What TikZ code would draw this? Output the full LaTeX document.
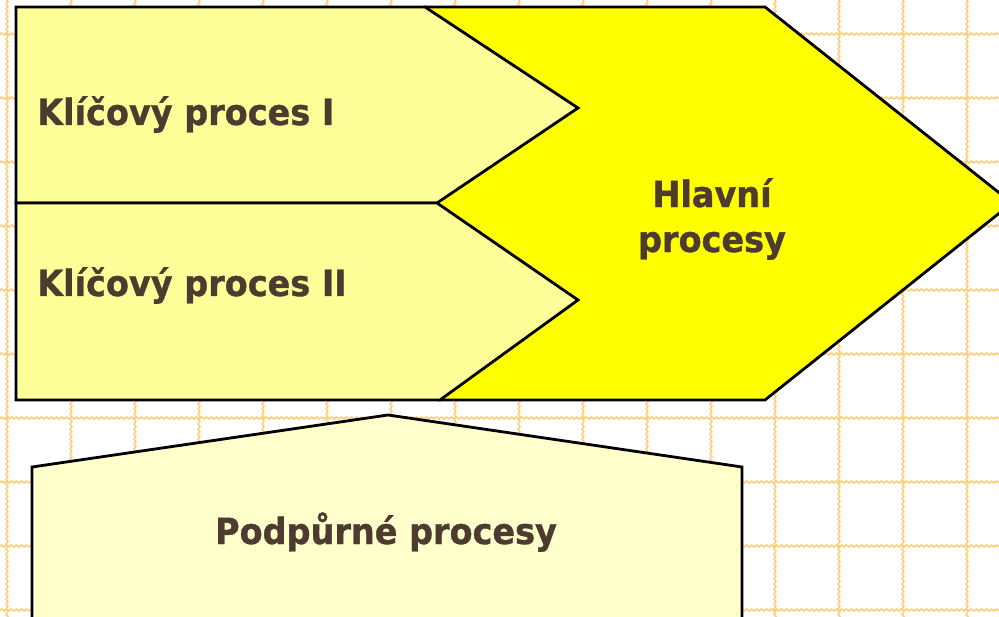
\documentclass[tikz,border=0pt]{standalone}
\usepackage{fontspec}
\setmainfont{DejaVu Sans}
\newfontfamily\labelfont{DejaVu Sans}[FakeStretch=0.93, BoldFeatures={FakeBold=1}]
\usetikzlibrary{decorations.pathmorphing}
\definecolor{gridorange}{RGB}{255,205,115}
\definecolor{keyyellow}{RGB}{255,255,153}
\definecolor{mainyellow}{RGB}{255,255,0}
\definecolor{supportyellow}{RGB}{255,255,204}
\definecolor{labelbrown}{RGB}{77,59,48}

\begin{document}
\begin{tikzpicture}[x=1pt,y=-1pt]
    \tikzstyle{every node}+=[inner sep=0pt, text=labelbrown, font=\labelfont\fontsize{36}{45}\selectfont\bfseries]
    \tikzstyle{gridline}=[gridorange, line width=1.5pt, decorate, decoration={snake, amplitude=1pt, segment length=5pt}]
    \tikzstyle{block}=[black, line width=2.8pt, line join=miter]
    \useasboundingbox (0,0) rectangle (999,617);
    \clip (0,0) rectangle (999,617);
    % grid behind everything
    \foreach \gx in {7,71,...,967}
        \draw [gridline] (\gx,-5) -- (\gx,625);
    \foreach \gy in {34,98,...,610}
        \draw [gridline] (-5,\gy) -- (1005,\gy);
    % main processes arrow
    \draw [block, fill=mainyellow] (425,7) -- (765,7) -- (1012,203) -- (765,400) -- (440,400) -- cycle;
    % the two key processes
    \draw [block, fill=keyyellow] (16,7) -- (425,7) -- (578,108) -- (437,203) -- (16,203) -- cycle;
    \draw [block, fill=keyyellow] (16,203) -- (437,203) -- (578,300) -- (440,400) -- (16,400) -- cycle;
    % support processes, runs off the bottom
    \draw [block, fill=supportyellow] (32,640) -- (32,467) -- (388,415) -- (742,467) -- (742,640);
    % labels
    \node [anchor=base west] (key1) at (37,125) {Klíčový proces I};
    \node [anchor=base west] (key2) at (37,296) {Klíčový proces II};
    \node [align=center] (main) at (712,219) {Hlavní\\procesy};
    \node [anchor=base] (support) at (386,544) {Podpůrné procesy};
\end{tikzpicture}
\end{document}
